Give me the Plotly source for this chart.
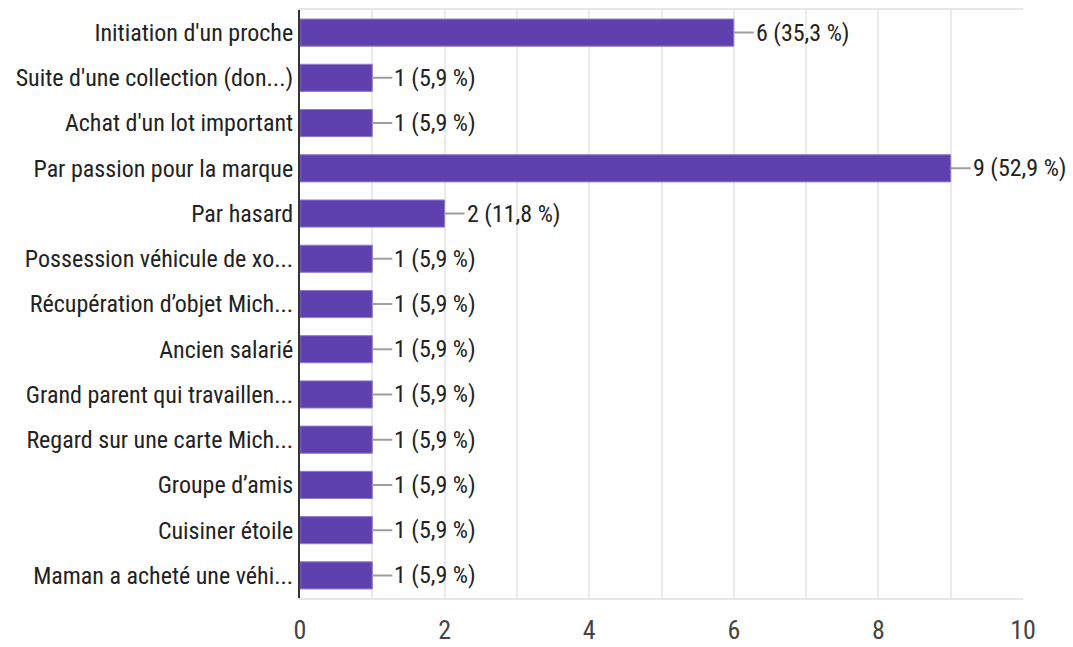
import plotly.graph_objects as go

categories = [
    "Initiation d'un proche",
    "Suite d'une collection (don...)",
    "Achat d'un lot important",
    "Par passion pour la marque",
    "Par hasard",
    "Possession véhicule de xo...",
    "Récupération d’objet Mich...",
    "Ancien salarié",
    "Grand parent qui travaillen...",
    "Regard sur une carte Mich...",
    "Groupe d’amis",
    "Cuisiner étoile",
    "Maman a acheté une véhi...",
]
counts = [6, 1, 1, 9, 2, 1, 1, 1, 1, 1, 1, 1, 1]
percents = ["35,3", "5,9", "5,9", "52,9", "11,8", "5,9", "5,9", "5,9", "5,9", "5,9", "5,9", "5,9", "5,9"]
x_ticks = [0, 2, 4, 6, 8, 10]

FONT = "Liberation Sans Narrow, Arial Narrow, Roboto Condensed, Liberation Sans, sans-serif"
BAR = "#5e40ae"

fig = go.Figure()
fig.add_trace(go.Bar(
    x=counts, y=categories, orientation="h",
    marker=dict(color=BAR, line=dict(color="#8f7ccc", width=1)),
    width=0.6, hoverinfo="skip",
))

for c, v, p in zip(categories, counts, percents):
    fig.add_annotation(
        x=v, y=c, xref="x", yref="y",
        text=f"{v} ({p} %)",
        showarrow=True, arrowhead=0, arrowwidth=2, arrowcolor="#9e9e9e",
        ax=20, ay=0, xanchor="left", yanchor="middle",
        font=dict(family=FONT, size=24, color="#222222"),
    )

fig.update_layout(
    width=1073, height=647,
    margin=dict(l=300, r=50, t=10, b=49, autoexpand=False),
    paper_bgcolor="white", plot_bgcolor="white",
    showlegend=False,
    font=dict(family=FONT, size=24, color="#222222"),
    bargap=0.4,
)
fig.update_xaxes(
    range=[0, 10], tickvals=x_ticks, ticktext=[str(t) for t in x_ticks],
    showgrid=True, gridcolor="#ebebeb", gridwidth=1.5,
    minor=dict(dtick=1, showgrid=True, gridcolor="#ebebeb", gridwidth=1.5),
    showline=True, linecolor="#e6e6e6", linewidth=2, mirror=True,
    zeroline=False, ticks="", ticklabelstandoff=8, automargin=False,
    tickfont=dict(family=FONT, size=26, color="#444444"),
)
fig.update_yaxes(
    autorange="reversed", showgrid=False, zeroline=False,
    showline=True, linecolor="#333333", linewidth=2,
    ticks="", ticklabelstandoff=0, automargin=False,
    tickfont=dict(family=FONT, size=24, color="#222222"),
)

fig.write_html(
    "out.html",
    config={"displayModeBar": False},
    post_script="document.body.style.margin='0';document.body.style.overflow='hidden';",
)
